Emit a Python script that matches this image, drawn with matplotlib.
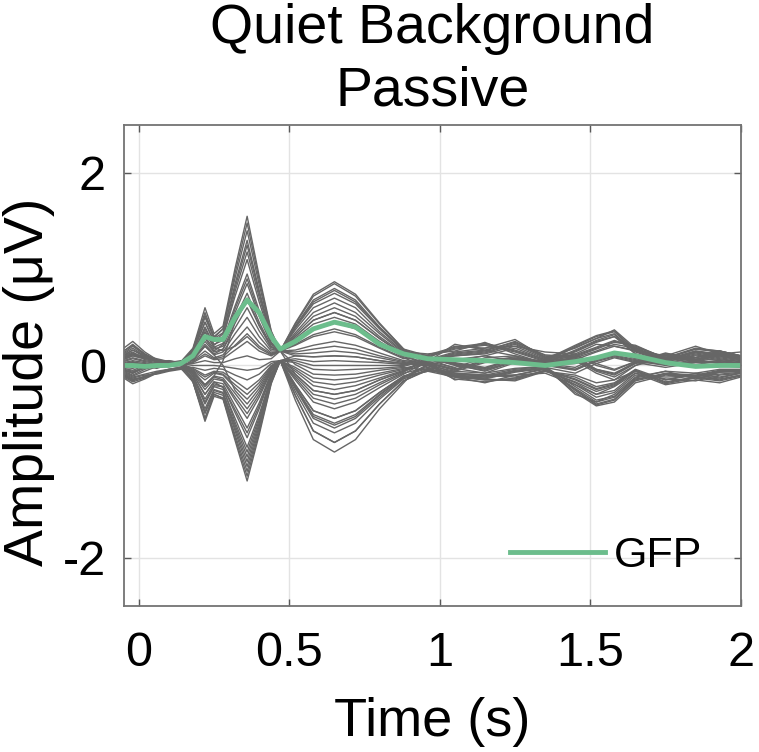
import matplotlib.pyplot as plt
import numpy as np

plt.rcParams['font.family'] = ['Liberation Sans', 'DejaVu Sans']
plt.rcParams['axes.unicode_minus'] = False

# time grid (s)
t = [-0.05, -0.02, 0.02, 0.06, 0.10, 0.14, 0.18, 0.22, 0.25, 0.28, 0.32, 0.36,
     0.40, 0.44, 0.47, 0.52, 0.58, 0.65, 0.72, 0.80, 0.88, 0.96, 1.05, 1.15,
     1.25, 1.35, 1.45, 1.52, 1.58, 1.65, 1.75, 1.85, 1.93, 2.00]

# channel amplitudes (uV)
channels = [
    [0.15, 0.22, 0.12, 0.05, 0.02, 0.04, 0.18, 0.60, 0.33, 0.41, 1.01, 1.55, 0.93, 0.36, 0.15, 0.43, 0.72, 0.85, 0.72, 0.43, 0.17, 0.10, 0.18, 0.22, 0.15, 0.05, 0.20, 0.30, 0.35, 0.15, 0.05, 0.12, 0.08, 0.05],
    [0.08, 0.12, 0.08, 0.05, 0.03, 0.02, 0.17, 0.55, 0.30, 0.38, 0.91, 1.40, 0.84, 0.33, 0.15, 0.32, 0.51, 0.60, 0.51, 0.30, 0.12, 0.05, 0.12, 0.15, 0.25, 0.10, 0.10, 0.18, 0.25, 0.20, 0.08, 0.18, 0.15, 0.10],
    [-0.05, -0.08, -0.02, 0.02, 0.04, 0.02, 0.15, 0.50, 0.28, 0.34, 0.81, 1.25, 0.75, 0.30, 0.15, 0.41, 0.68, 0.80, 0.68, 0.40, 0.16, 0.08, 0.00, -0.05, 0.05, 0.03, 0.08, -0.05, -0.10, 0.02, 0.10, 0.05, 0.12, 0.08],
    [0.00, 0.02, 0.00, -0.02, 0.00, 0.00, 0.14, 0.45, 0.25, 0.30, 0.72, 1.10, 0.66, 0.27, 0.15, 0.25, 0.38, 0.45, 0.38, 0.23, 0.09, 0.02, -0.05, 0.05, 0.08, 0.00, -0.05, 0.05, 0.10, 0.05, 0.00, 0.05, 0.02, 0.00],
    [0.10, 0.14, 0.06, 0.04, 0.05, 0.03, 0.12, 0.40, 0.22, 0.26, 0.62, 0.95, 0.57, 0.24, 0.15, 0.37, 0.60, 0.70, 0.60, 0.35, 0.14, 0.12, 0.15, 0.24, 0.12, 0.02, 0.15, 0.25, 0.30, 0.12, 0.02, 0.08, 0.05, 0.02],
    [-0.10, -0.15, -0.12, -0.08, -0.05, -0.03, 0.11, 0.35, 0.19, 0.23, 0.55, 0.85, 0.51, 0.22, 0.15, 0.14, 0.17, 0.20, 0.17, 0.10, 0.04, 0.00, -0.12, -0.15, -0.15, -0.05, -0.15, -0.25, -0.20, -0.05, -0.18, -0.12, -0.15, -0.10],
    [-0.03, -0.05, 0.00, 0.03, 0.02, 0.01, 0.09, 0.30, 0.17, 0.20, 0.49, 0.75, 0.45, 0.20, 0.15, 0.30, 0.47, 0.55, 0.47, 0.28, 0.11, 0.06, 0.10, 0.12, 0.20, 0.14, 0.12, 0.22, 0.20, 0.16, 0.10, 0.20, 0.12, 0.14],
    [0.02, 0.04, 0.01, -0.02, 0.01, 0.00, 0.08, 0.25, 0.14, 0.17, 0.39, 0.60, 0.36, 0.17, 0.15, 0.01, -0.09, -0.10, -0.09, -0.05, -0.02, -0.05, -0.10, -0.12, -0.05, -0.02, -0.25, -0.40, -0.35, -0.15, -0.08, -0.10, -0.05, -0.05],
    [0.06, 0.10, 0.07, 0.06, 0.02, 0.03, 0.06, 0.20, 0.11, 0.14, 0.33, 0.50, 0.30, 0.15, 0.15, 0.21, 0.30, 0.35, 0.30, 0.18, 0.07, 0.10, 0.02, -0.03, 0.07, 0.05, 0.12, 0.00, -0.05, 0.04, 0.12, 0.08, 0.15, 0.10],
    [0.18, 0.25, 0.14, 0.06, 0.03, 0.05, 0.05, 0.15, 0.08, 0.11, 0.26, 0.40, 0.24, 0.13, 0.15, 0.39, 0.64, 0.75, 0.64, 0.38, 0.15, 0.08, 0.20, 0.18, 0.27, 0.08, 0.18, 0.28, 0.37, 0.18, 0.06, 0.14, 0.10, 0.06],
    [-0.06, -0.10, -0.04, 0.00, 0.03, 0.01, 0.03, 0.10, 0.06, 0.07, 0.16, 0.25, 0.15, 0.10, 0.15, -0.09, -0.26, -0.30, -0.26, -0.15, -0.06, 0.02, -0.08, -0.12, -0.10, -0.08, -0.20, -0.30, -0.22, -0.08, -0.20, -0.15, -0.18, -0.12],
    [0.01, 0.03, -0.01, -0.03, 0.01, 0.01, 0.02, 0.05, 0.03, 0.03, 0.07, 0.10, 0.06, 0.07, 0.15, 0.16, 0.21, 0.25, 0.21, 0.13, 0.05, 0.04, -0.02, 0.08, 0.10, 0.02, -0.02, 0.08, 0.14, 0.07, 0.02, 0.03, 0.04, 0.02],
    [0.09, 0.13, 0.09, 0.04, 0.02, 0.02, 0.00, 0.00, 0.00, -0.01, -0.03, -0.05, -0.03, 0.04, 0.05, 0.03, -0.04, -0.05, -0.04, -0.03, -0.01, 0.06, 0.02, -0.03, 0.06, 0.02, 0.06, -0.06, -0.12, 0.00, 0.08, 0.06, 0.10, 0.06],
    [-0.12, -0.17, -0.13, -0.07, -0.04, -0.02, -0.02, -0.05, -0.03, -0.04, -0.10, -0.15, -0.09, 0.02, 0.05, 0.10, 0.09, 0.10, 0.09, 0.05, 0.02, 0.00, -0.06, 0.03, 0.06, -0.02, -0.08, 0.02, 0.08, 0.03, -0.02, 0.03, 0.00, -0.02],
    [-0.04, -0.06, -0.03, 0.03, 0.05, 0.02, -0.03, -0.10, -0.06, -0.07, -0.16, -0.25, -0.15, 0.00, 0.05, -0.20, -0.47, -0.55, -0.47, -0.28, -0.11, -0.06, -0.12, -0.14, -0.07, -0.03, -0.28, -0.42, -0.38, -0.18, -0.10, -0.12, -0.07, -0.06],
    [0.01, 0.03, 0.02, -0.01, 0.00, 0.01, -0.05, -0.15, -0.08, -0.10, -0.23, -0.35, -0.21, -0.02, 0.05, 0.07, 0.04, 0.05, 0.04, 0.03, 0.01, 0.04, 0.10, 0.13, 0.22, 0.08, 0.08, 0.15, 0.22, 0.18, 0.06, 0.15, 0.12, 0.08],
    [-0.09, -0.13, -0.10, -0.09, -0.06, -0.04, -0.06, -0.20, -0.11, -0.13, -0.29, -0.45, -0.27, -0.04, 0.05, -0.13, -0.34, -0.40, -0.34, -0.20, -0.08, -0.02, -0.14, -0.17, -0.13, -0.06, -0.12, -0.22, -0.18, -0.04, -0.15, -0.10, -0.13, -0.08],
    [0.07, 0.10, 0.07, 0.06, 0.04, 0.03, -0.08, -0.25, -0.14, -0.16, -0.36, -0.55, -0.33, -0.06, 0.05, -0.04, -0.17, -0.20, -0.17, -0.10, -0.04, 0.03, -0.04, 0.06, 0.07, 0.01, -0.04, 0.06, 0.11, 0.06, 0.01, 0.06, 0.03, 0.01],
    [0.13, 0.20, 0.11, 0.04, 0.01, 0.03, -0.09, -0.30, -0.17, -0.19, -0.42, -0.65, -0.39, -0.08, 0.05, -0.27, -0.60, -0.70, -0.60, -0.35, -0.14, -0.04, -0.08, -0.10, -0.04, -0.01, -0.22, -0.36, -0.32, -0.13, -0.06, -0.08, -0.04, -0.04],
    [-0.05, -0.07, -0.01, 0.02, 0.03, 0.02, -0.11, -0.35, -0.19, -0.22, -0.49, -0.75, -0.45, -0.10, 0.05, -0.09, -0.26, -0.30, -0.26, -0.15, -0.06, 0.07, 0.01, -0.04, 0.04, 0.02, 0.07, -0.04, -0.08, 0.03, 0.09, 0.04, 0.11, 0.07],
    [-0.11, -0.16, -0.11, -0.07, -0.05, -0.03, -0.12, -0.40, -0.22, -0.25, -0.55, -0.85, -0.51, -0.12, 0.05, -0.22, -0.51, -0.60, -0.51, -0.30, -0.12, 0.01, -0.10, -0.14, -0.16, -0.06, -0.17, -0.27, -0.21, -0.06, -0.19, -0.13, -0.16, -0.11],
    [0.00, 0.01, 0.01, -0.02, -0.01, 0.00, -0.14, -0.45, -0.25, -0.28, -0.62, -0.95, -0.57, -0.14, 0.05, -0.15, -0.38, -0.45, -0.38, -0.23, -0.09, 0.05, 0.13, 0.16, 0.24, 0.11, 0.09, 0.17, 0.24, 0.21, 0.07, 0.17, 0.14, 0.09],
    [0.08, 0.11, 0.08, 0.05, 0.03, 0.02, -0.15, -0.50, -0.28, -0.31, -0.68, -1.05, -0.63, -0.16, 0.05, -0.31, -0.68, -0.80, -0.68, -0.40, -0.16, -0.05, -0.09, -0.11, -0.06, -0.03, -0.24, -0.38, -0.33, -0.14, -0.09, -0.11, -0.06, -0.05],
    [-0.10, -0.14, -0.12, -0.08, -0.05, -0.03, -0.17, -0.55, -0.30, -0.34, -0.75, -1.15, -0.69, -0.18, 0.05, -0.36, -0.77, -0.90, -0.77, -0.45, -0.18, 0.09, 0.17, 0.21, 0.14, 0.04, 0.19, 0.28, 0.33, 0.14, 0.04, 0.11, 0.07, 0.04],
    [-0.05, -0.08, -0.02, 0.02, 0.04, 0.02, -0.17, -0.58, -0.32, -0.35, -0.78, -1.20, -0.72, -0.19, 0.05, -0.24, -0.55, -0.65, -0.55, -0.33, -0.13, 0.00, -0.11, -0.15, -0.14, -0.05, -0.14, -0.24, -0.19, -0.05, -0.17, -0.12, -0.14, -0.10],
    [0.15, 0.21, 0.12, 0.05, 0.02, 0.04, 0.11, 0.35, 0.19, 0.15, 0.20, 0.30, 0.18, 0.11, 0.15, 0.44, 0.74, 0.87, 0.74, 0.44, 0.17, 0.05, 0.11, 0.14, 0.23, 0.09, 0.11, 0.19, 0.26, 0.19, 0.08, 0.17, 0.15, 0.10],
    [-0.05, -0.08, -0.02, 0.02, 0.04, 0.02, 0.14, 0.45, 0.25, 0.33, 0.85, 1.30, 0.78, 0.31, 0.15, 0.10, 0.09, 0.10, 0.09, 0.05, 0.02, 0.03, -0.04, 0.04, 0.09, 0.01, -0.04, 0.04, 0.09, 0.04, 0.01, 0.04, 0.03, 0.01],
    [0.08, 0.12, 0.08, 0.05, 0.03, 0.02, -0.09, -0.30, -0.17, -0.23, -0.59, -0.90, -0.54, -0.13, 0.05, 0.05, 0.00, 0.00, 0.00, 0.00, 0.00, 0.09, 0.01, -0.06, 0.04, 0.02, 0.09, -0.04, -0.09, 0.03, 0.11, 0.06, 0.13, 0.09],
    [-0.10, -0.15, -0.12, -0.08, -0.05, -0.03, 0.06, 0.20, 0.11, 0.00, -0.26, -0.40, -0.24, -0.03, 0.05, -0.31, -0.68, -0.80, -0.68, -0.40, -0.16, -0.04, -0.11, -0.13, -0.06, -0.03, -0.26, -0.41, -0.36, -0.16, -0.09, -0.11, -0.06, -0.06],
    [0.00, 0.02, 0.00, -0.02, 0.00, 0.00, -0.06, -0.20, -0.11, 0.05, 0.46, 0.70, 0.42, 0.19, 0.15, 0.28, 0.43, 0.50, 0.43, 0.25, 0.10, 0.11, 0.19, 0.23, 0.16, 0.06, 0.21, 0.31, 0.36, 0.16, 0.06, 0.13, 0.09, 0.06],
    [0.12, 0.18, 0.10, 0.04, 0.01, 0.03, 0.16, 0.52, 0.29, 0.38, 0.96, 1.48, 0.89, 0.35, 0.15, 0.34, 0.55, 0.65, 0.55, 0.33, 0.13, 0.06, 0.14, 0.18, 0.20, 0.07, 0.14, 0.24, 0.30, 0.17, 0.06, 0.15, 0.11, 0.07],
    [-0.07, -0.11, -0.06, -0.01, 0.02, 0.01, 0.11, 0.38, 0.21, 0.29, 0.77, 1.18, 0.71, 0.29, 0.15, 0.22, 0.32, 0.38, 0.32, 0.19, 0.08, -0.02, -0.08, -0.10, -0.10, -0.03, -0.20, -0.33, -0.28, -0.10, -0.12, -0.11, -0.09, -0.07],
    [0.04, 0.07, 0.04, 0.02, 0.01, 0.01, 0.08, 0.28, 0.15, 0.22, 0.59, 0.90, 0.54, 0.23, 0.15, 0.40, 0.66, 0.78, 0.66, 0.39, 0.16, 0.04, 0.22, 0.16, 0.10, 0.03, 0.16, 0.26, 0.32, 0.12, 0.04, 0.10, 0.06, 0.04],
    [0.11, 0.16, 0.10, 0.07, 0.04, 0.03, 0.07, 0.22, 0.12, 0.17, 0.44, 0.68, 0.41, 0.19, 0.15, 0.12, 0.13, 0.15, 0.13, 0.08, 0.03, 0.07, -0.03, -0.08, 0.03, 0.02, 0.05, -0.08, -0.15, 0.00, 0.12, 0.08, 0.15, 0.10],
    [-0.02, -0.03, 0.01, 0.00, 0.01, 0.00, 0.04, 0.12, 0.07, 0.09, 0.21, 0.33, 0.20, 0.12, 0.15, 0.30, 0.47, 0.55, 0.47, 0.28, 0.11, 0.01, 0.06, 0.10, 0.18, 0.06, 0.06, 0.14, 0.20, 0.15, 0.05, 0.14, 0.12, 0.08],
    [0.05, 0.08, 0.05, 0.03, 0.02, 0.01, -0.04, -0.12, -0.07, -0.09, -0.20, -0.30, -0.18, -0.01, 0.05, -0.02, -0.13, -0.15, -0.13, -0.08, -0.03, 0.03, -0.15, -0.10, -0.12, -0.06, -0.10, -0.18, -0.15, -0.06, -0.15, -0.08, -0.12, -0.08],
    [-0.08, -0.12, -0.09, -0.06, -0.04, -0.02, -0.07, -0.22, -0.12, -0.15, -0.33, -0.50, -0.30, -0.05, 0.05, -0.23, -0.53, -0.62, -0.53, -0.31, -0.12, -0.06, -0.06, -0.08, -0.03, -0.01, -0.30, -0.38, -0.30, -0.12, -0.06, -0.14, -0.07, -0.06],
    [0.03, 0.05, 0.03, 0.00, 0.01, 0.01, -0.11, -0.38, -0.21, -0.22, -0.46, -0.70, -0.42, -0.09, 0.05, -0.06, -0.21, -0.25, -0.21, -0.13, -0.05, 0.05, 0.05, 0.10, 0.04, 0.00, 0.02, 0.08, 0.14, 0.08, 0.03, 0.08, 0.05, 0.03],
    [-0.13, -0.19, -0.14, -0.08, -0.04, -0.02, -0.14, -0.48, -0.26, -0.29, -0.65, -1.00, -0.60, -0.15, 0.05, -0.20, -0.47, -0.55, -0.47, -0.28, -0.11, -0.03, -0.12, -0.18, -0.10, -0.04, -0.18, -0.30, -0.26, -0.08, -0.14, -0.16, -0.10, -0.08],
    [0.10, 0.16, 0.09, 0.05, 0.02, 0.03, -0.17, -0.55, -0.30, -0.34, -0.72, -1.10, -0.66, -0.17, 0.05, -0.11, -0.30, -0.35, -0.30, -0.18, -0.07, 0.09, 0.03, -0.02, 0.07, 0.04, 0.10, 0.02, -0.04, 0.04, 0.13, 0.06, 0.14, 0.09],
]

gfp = [0.00, 0.00, -0.01, 0.00, 0.00, 0.02, 0.10, 0.30, 0.27, 0.27, 0.50, 0.68,
       0.55, 0.30, 0.17, 0.25, 0.38, 0.45, 0.40, 0.22, 0.12, 0.07, 0.06, 0.05,
       0.03, 0.00, 0.04, 0.08, 0.13, 0.10, 0.03, -0.01, 0.00, 0.00]

fig = plt.figure(figsize=(7.59, 7.52), dpi=100)
ax = fig.add_axes([0.163, 0.194, 0.813, 0.640])

for ch in channels:
    ax.plot(t, ch, color=(0.4, 0.4, 0.4), lw=1.0)
ax.plot(t, gfp, color='#6cbd8c', lw=3.5, label='GFP')

ax.set_xlim(-0.05, 2.0)
ax.set_ylim(-2.5, 2.5)
ax.set_xticks([0, 0.5, 1, 1.5, 2])
ax.set_xticklabels(['0', '0.5', '1', '1.5', '2'])
ax.set_yticks([-2, 0, 2])
ax.grid(True, color=(0.89, 0.89, 0.89), lw=1)
ax.set_axisbelow(True)
ax.tick_params(direction='in', length=5, width=1, colors=(0.35, 0.35, 0.35),
               labelcolor='black', labelsize=35, top=True, right=True)
ax.tick_params(axis='x', pad=18)
ax.tick_params(axis='y', pad=13)
for s in ax.spines.values():
    s.set_color((0.45, 0.45, 0.45))
    s.set_linewidth(1.3)

ax.set_xlabel('Time (s)', fontsize=39, labelpad=15)
ax.set_ylabel('Amplitude (\u03bcV)', fontsize=40)
ax.yaxis.set_label_coords(-0.112, 0.466)
ax.set_title('Quiet Background\nPassive', fontsize=40, pad=14, linespacing=1.25)

ax.legend(loc='center right', frameon=False, fontsize=31, handlelength=2.2,
          handletextpad=0.2, borderpad=0, borderaxespad=0,
          bbox_to_anchor=(0.937, 0.105))

plt.savefig('out.png', dpi=100)
